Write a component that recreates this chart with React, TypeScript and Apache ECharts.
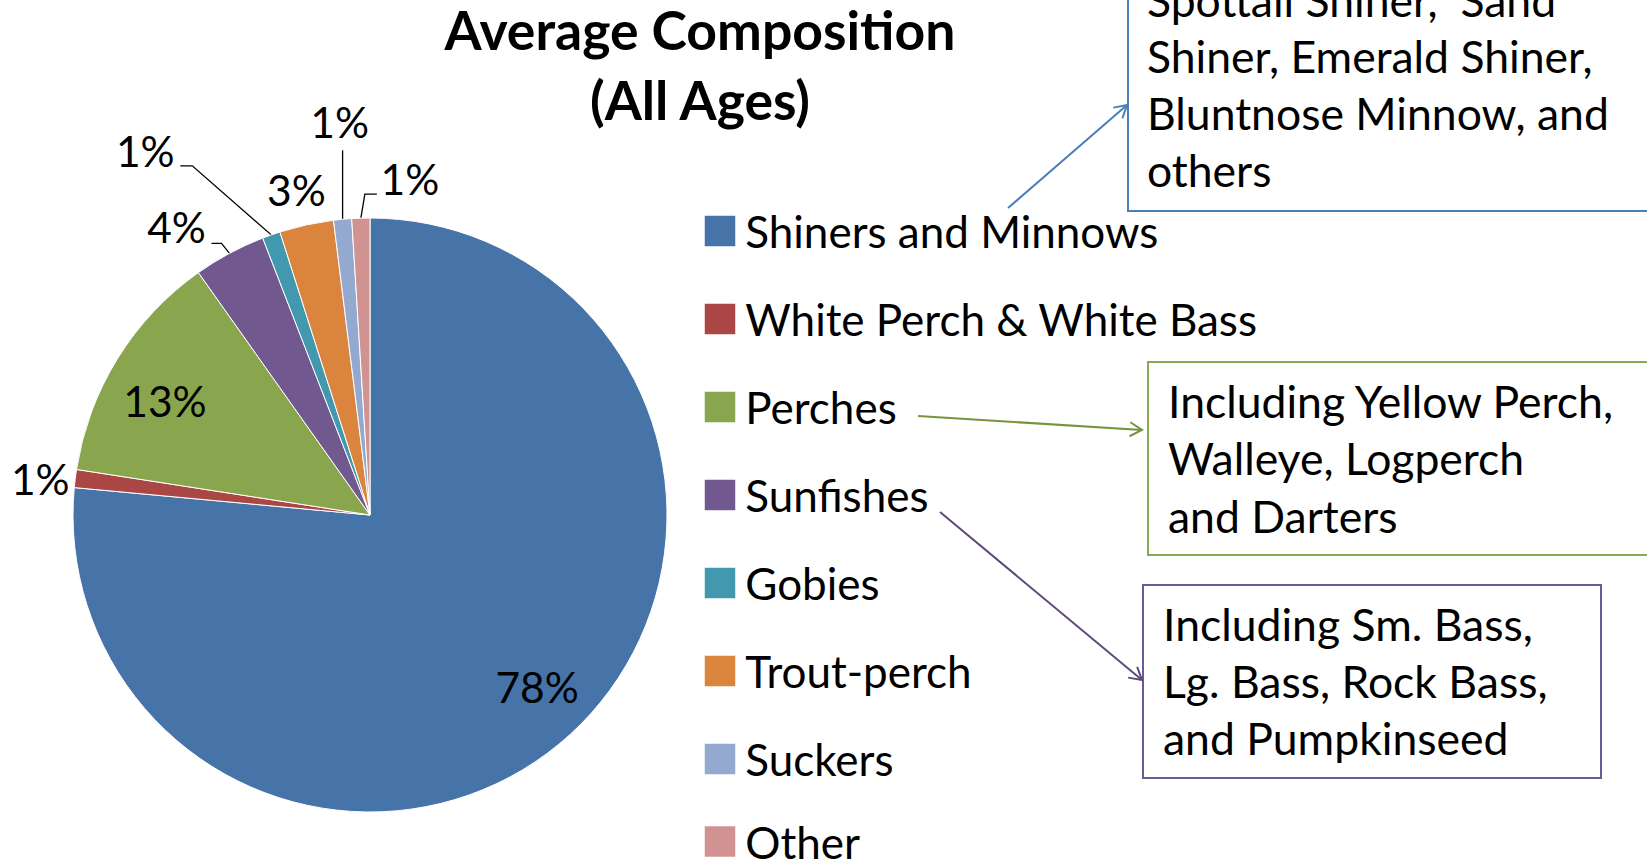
import React, { useEffect, useRef } from 'react';
import * as echarts from 'echarts';

const categories = [
  'Shiners and Minnows',
  'White Perch & White Bass',
  'Perches',
  'Sunfishes',
  'Gobies',
  'Trout-perch',
  'Suckers',
  'Other',
];
const values = [78, 1, 13, 4, 1, 3, 1, 1];
const sliceColors = ['#4674A9', '#AA4643', '#89A54E', '#71588F', '#4198AF', '#DB843D', '#93A9CF', '#D19392'];
const titleLines = ['Average Composition', '(All Ages)'];
const shinersNote = ['Spottail Shiner,  Sand', 'Shiner, Emerald Shiner,', 'Bluntnose Minnow, and', 'others'];
const perchesNote = ['Including Yellow Perch,', 'Walleye, Logperch', 'and Darters'];
const sunfishNote = ['Including Sm. Bass,', 'Lg. Bass, Rock Bass,', 'and Pumpkinseed'];

const FONT = 'Lato, Carlito, "Open Sans", sans-serif';
const CX = 370;
const CY = 515;
const R = 297;

// title layout (style)
const TITLE_FIRST_CENTER = 29;
const TITLE_STEP = 70;
const TITLE_SIZE = 53.5;

// legend layout (style)
const LEGEND_TOP = 209;
const LEGEND_PITCH = 87.8;
const LEGEND_FIRST_BLOCK = 7;

// label placement (style): offset of label centre from its slice anchor, and leader elbow/end
const insidePlacement: Record<number, number[]> = { 0: [7, -4], 2: [-3, 11] };
const labelPlacement: Record<number, { off: number[]; line?: number[][] }> = {
  1: { off: [-35, 0] },
  3: { off: [-53, -27], line: [[-8, -10], [-18, -10]] },
  4: { off: [-126, -84], line: [[-79, -69], [-91, -69]] },
  5: { off: [-10, -35] },
  6: { off: [-3, -98], line: [[0, -69], [0, -69]] },
  7: { off: [49, -40], line: [[4, -24], [16, -24]] },
};

function midAngle(i: number): number {
  const total = values.reduce((a, b) => a + b, 0);
  let before = 0;
  for (let k = 0; k < i; k++) before += values[k];
  return ((before + values[i] / 2) / total) * Math.PI * 2;
}

function arrow(x1: number, y1: number, x2: number, y2: number, color: string): any[] {
  const ang = Math.atan2(y2 - y1, x2 - x1);
  const len = 14;
  const spread = Math.PI / 6;
  const p1 = [x2 - len * Math.cos(ang - spread), y2 - len * Math.sin(ang - spread)];
  const p2 = [x2 - len * Math.cos(ang + spread), y2 - len * Math.sin(ang + spread)];
  return [
    { type: 'line', shape: { x1, y1, x2, y2 }, style: { stroke: color, lineWidth: 2 }, silent: true },
    { type: 'polyline', shape: { points: [p1, [x2, y2], p2] }, style: { stroke: color, lineWidth: 2, fill: null }, silent: true },
  ];
}

function noteText(lines: string[], x: number, firstCenter: number, step: number): any[] {
  return lines.map((t, i) => ({
    type: 'text',
    x,
    y: firstCenter + i * step,
    style: { text: t, fill: '#000', font: `44.5px ${FONT}`, textAlign: 'left', textVerticalAlign: 'middle' },
    silent: true,
  }));
}

function legendBlock(names: string[], top: number): any {
  return {
    orient: 'vertical',
    left: 702.75,
    top,
    padding: 0,
    icon: 'rect',
    itemWidth: 32.5,
    itemHeight: 32.5,
    itemGap: 44,
    selectedMode: false,
    data: names,
    textStyle: { fontFamily: FONT, fontSize: 44, color: '#000', padding: [0, 0, 0, 4] },
  };
}

export default function App() {
  const ref = useRef<HTMLDivElement>(null);
  useEffect(() => {
    if (!ref.current) return;
    const chart = echarts.init(ref.current, undefined, { renderer: 'svg' });
    const data = categories.map((name, i) => {
      const item: any = { name, value: values[i], itemStyle: { color: sliceColors[i] } };
      if (insidePlacement[i]) {
        item.label = { position: 'inside' };
      } else if (!labelPlacement[i] || !labelPlacement[i].line) {
        item.labelLine = { show: false };
      }
      return item;
    });
    chart.setOption({
      animation: false,
      backgroundColor: '#ffffff',
      title: titleLines.map((t, i) => ({
        text: t,
        left: 700,
        top: TITLE_FIRST_CENTER + i * TITLE_STEP - TITLE_SIZE / 2,
        padding: 0,
        textAlign: 'center',
        textStyle: { fontFamily: FONT, fontWeight: 'bold', fontSize: TITLE_SIZE, lineHeight: TITLE_SIZE, color: '#000' },
      })),
      legend: [
        legendBlock(categories.slice(0, LEGEND_FIRST_BLOCK), LEGEND_TOP),
        legendBlock(categories.slice(LEGEND_FIRST_BLOCK), LEGEND_TOP + LEGEND_FIRST_BLOCK * LEGEND_PITCH - 4),
      ],
      series: [
        {
          type: 'pie',
          center: [CX, CY],
          radius: R,
          startAngle: 90,
          clockwise: true,
          silent: true,
          avoidLabelOverlap: false,
          itemStyle: { borderColor: '#ffffff', borderWidth: 1 },
          label: {
            show: true,
            formatter: '{c}%',
            fontFamily: FONT,
            fontSize: 42.5,
            color: '#000',
            position: 'outside',
          },
          labelLine: { show: true, lineStyle: { color: '#000', width: 1.3 }, length: 10, length2: 10 },
          labelLayout: (params: any) => {
            const i = params.dataIndex;
            const a = midAngle(i);
            const s = Math.sin(a);
            const c = Math.cos(a);
            if (insidePlacement[i]) {
              const o = insidePlacement[i];
              return { x: CX + 0.8 * R * s + o[0], y: CY - 0.8 * R * c + o[1], align: 'center', verticalAlign: 'middle' };
            }
            const ax = CX + R * s;
            const ay = CY - R * c;
            const p = labelPlacement[i];
            const res: any = { x: ax + p.off[0], y: ay + p.off[1], align: 'center', verticalAlign: 'middle' };
            if (p.line) {
              res.labelLinePoints = [[ax, ay], [ax + p.line[0][0], ay + p.line[0][1]], [ax + p.line[1][0], ay + p.line[1][1]]];
            }
            return res;
          },
          data,
        },
      ],
      graphic: [
        { type: 'rect', shape: { x: 1128, y: -10, width: 600, height: 221 }, style: { stroke: '#4A7EBB', lineWidth: 2, fill: '#fff' }, silent: true },
        ...noteText(shinersNote, 1147, -1, 56.7),
        { type: 'rect', shape: { x: 1148, y: 362, width: 600, height: 193 }, style: { stroke: '#8AAA52', lineWidth: 2, fill: '#fff' }, silent: true },
        ...noteText(perchesNote, 1168, 400, 57.5),
        { type: 'rect', shape: { x: 1143, y: 585, width: 458, height: 193 }, style: { stroke: '#6B5A96', lineWidth: 2, fill: '#fff' }, silent: true },
        ...noteText(sunfishNote, 1163, 623, 57),
        ...arrow(1008, 208, 1127, 105, '#4A7EBB'),
        ...arrow(918, 416, 1142, 430, '#77933C'),
        ...arrow(940, 512, 1142, 680, '#5F497A'),
      ],
    });
    return () => chart.dispose();
  }, []);
  return <div ref={ref} style={{ position: 'fixed', left: 0, top: 0, width: 1647, height: 863 }} />;
}
